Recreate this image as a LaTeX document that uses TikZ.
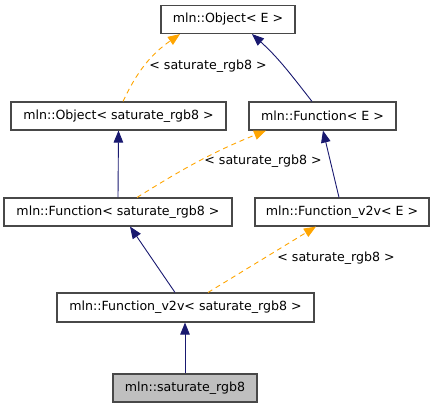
\documentclass[tikz,border=0pt]{standalone}
\usepackage{fontspec}
\setmainfont{DejaVu Sans}
\usetikzlibrary{arrows.meta}
\definecolor{edgeblue}{HTML}{191970}
\definecolor{edgeorange}{HTML}{FFA500}
\definecolor{boxgray}{HTML}{BFBFBF}
\definecolor{boxline}{HTML}{484848}
\begin{document}
\begin{tikzpicture}[x=1pt,y=-1pt,
  cls/.style={draw=boxline,line width=1.1pt,fill=white,minimum height=28pt,inner sep=0pt,font=\fontsize{12.6}{15}\selectfont},
  inh/.style={draw=edgeblue,line width=0.9pt,-{Triangle[length=12pt,width=9.5pt]}},
  tpl/.style={draw=edgeorange,line width=0.9pt,dash pattern=on 5pt off 4pt,-{Triangle[length=12pt,width=9.5pt]}},
  lbl/.style={font=\fontsize{12.6}{15}\selectfont,inner sep=0pt}]
\useasboundingbox (0,0) rectangle (435,408);
\node[cls,minimum width=134pt] (o) at (228,19.5) {mln::Object< E >};
\node[cls,minimum width=215pt] (os) at (118.5,116) {mln::Object< saturate\_rgb8 >};
\node[cls,minimum width=147pt] (f) at (322.5,116) {mln::Function< E >};
\node[cls,minimum width=228pt] (fs) at (118,212) {mln::Function< saturate\_rgb8 >};
\node[cls,minimum width=174pt] (fv) at (342,212) {mln::Function\_v2v< E >};
\node[cls,minimum width=257pt,minimum height=29pt] (fvs) at (185.5,307.5) {mln::Function\_v2v< saturate\_rgb8 >};
\node[cls,minimum width=144pt,fill=boxgray] (s) at (185,388) {mln::saturate\_rgb8};

\draw[tpl] ([xshift=4.5pt]os.north) to[out=65,in=-145] ([xshift=-48pt]o.south);
\node[lbl] (l1) at (208,66) {< saturate\_rgb8 >};
\draw[inh] ([xshift=-10.5pt]f.north) to[out=128,in=-42] ([xshift=24pt]o.south);
\draw[inh] (fs.north) -- (os.south);
\draw[tpl] ([xshift=19pt]fs.north) to[out=32,in=-158] ([xshift=-56.5pt]f.south);
\node[lbl] (l2) at (263,161) {< saturate\_rgb8 >};
\draw[inh] ([xshift=-3pt]fv.north) -- ([xshift=0.5pt]f.south);
\draw[inh] ([xshift=-10.5pt]fvs.north) -- ([xshift=12pt]fs.south);
\draw[tpl] ([xshift=22.5pt]fvs.north) -- ([xshift=-26pt]fv.south);
\node[lbl] (l3) at (336,258) {< saturate\_rgb8 >};
\draw[inh] (s.north) -- ([xshift=-0.5pt]fvs.south);
\end{tikzpicture}
\end{document}
